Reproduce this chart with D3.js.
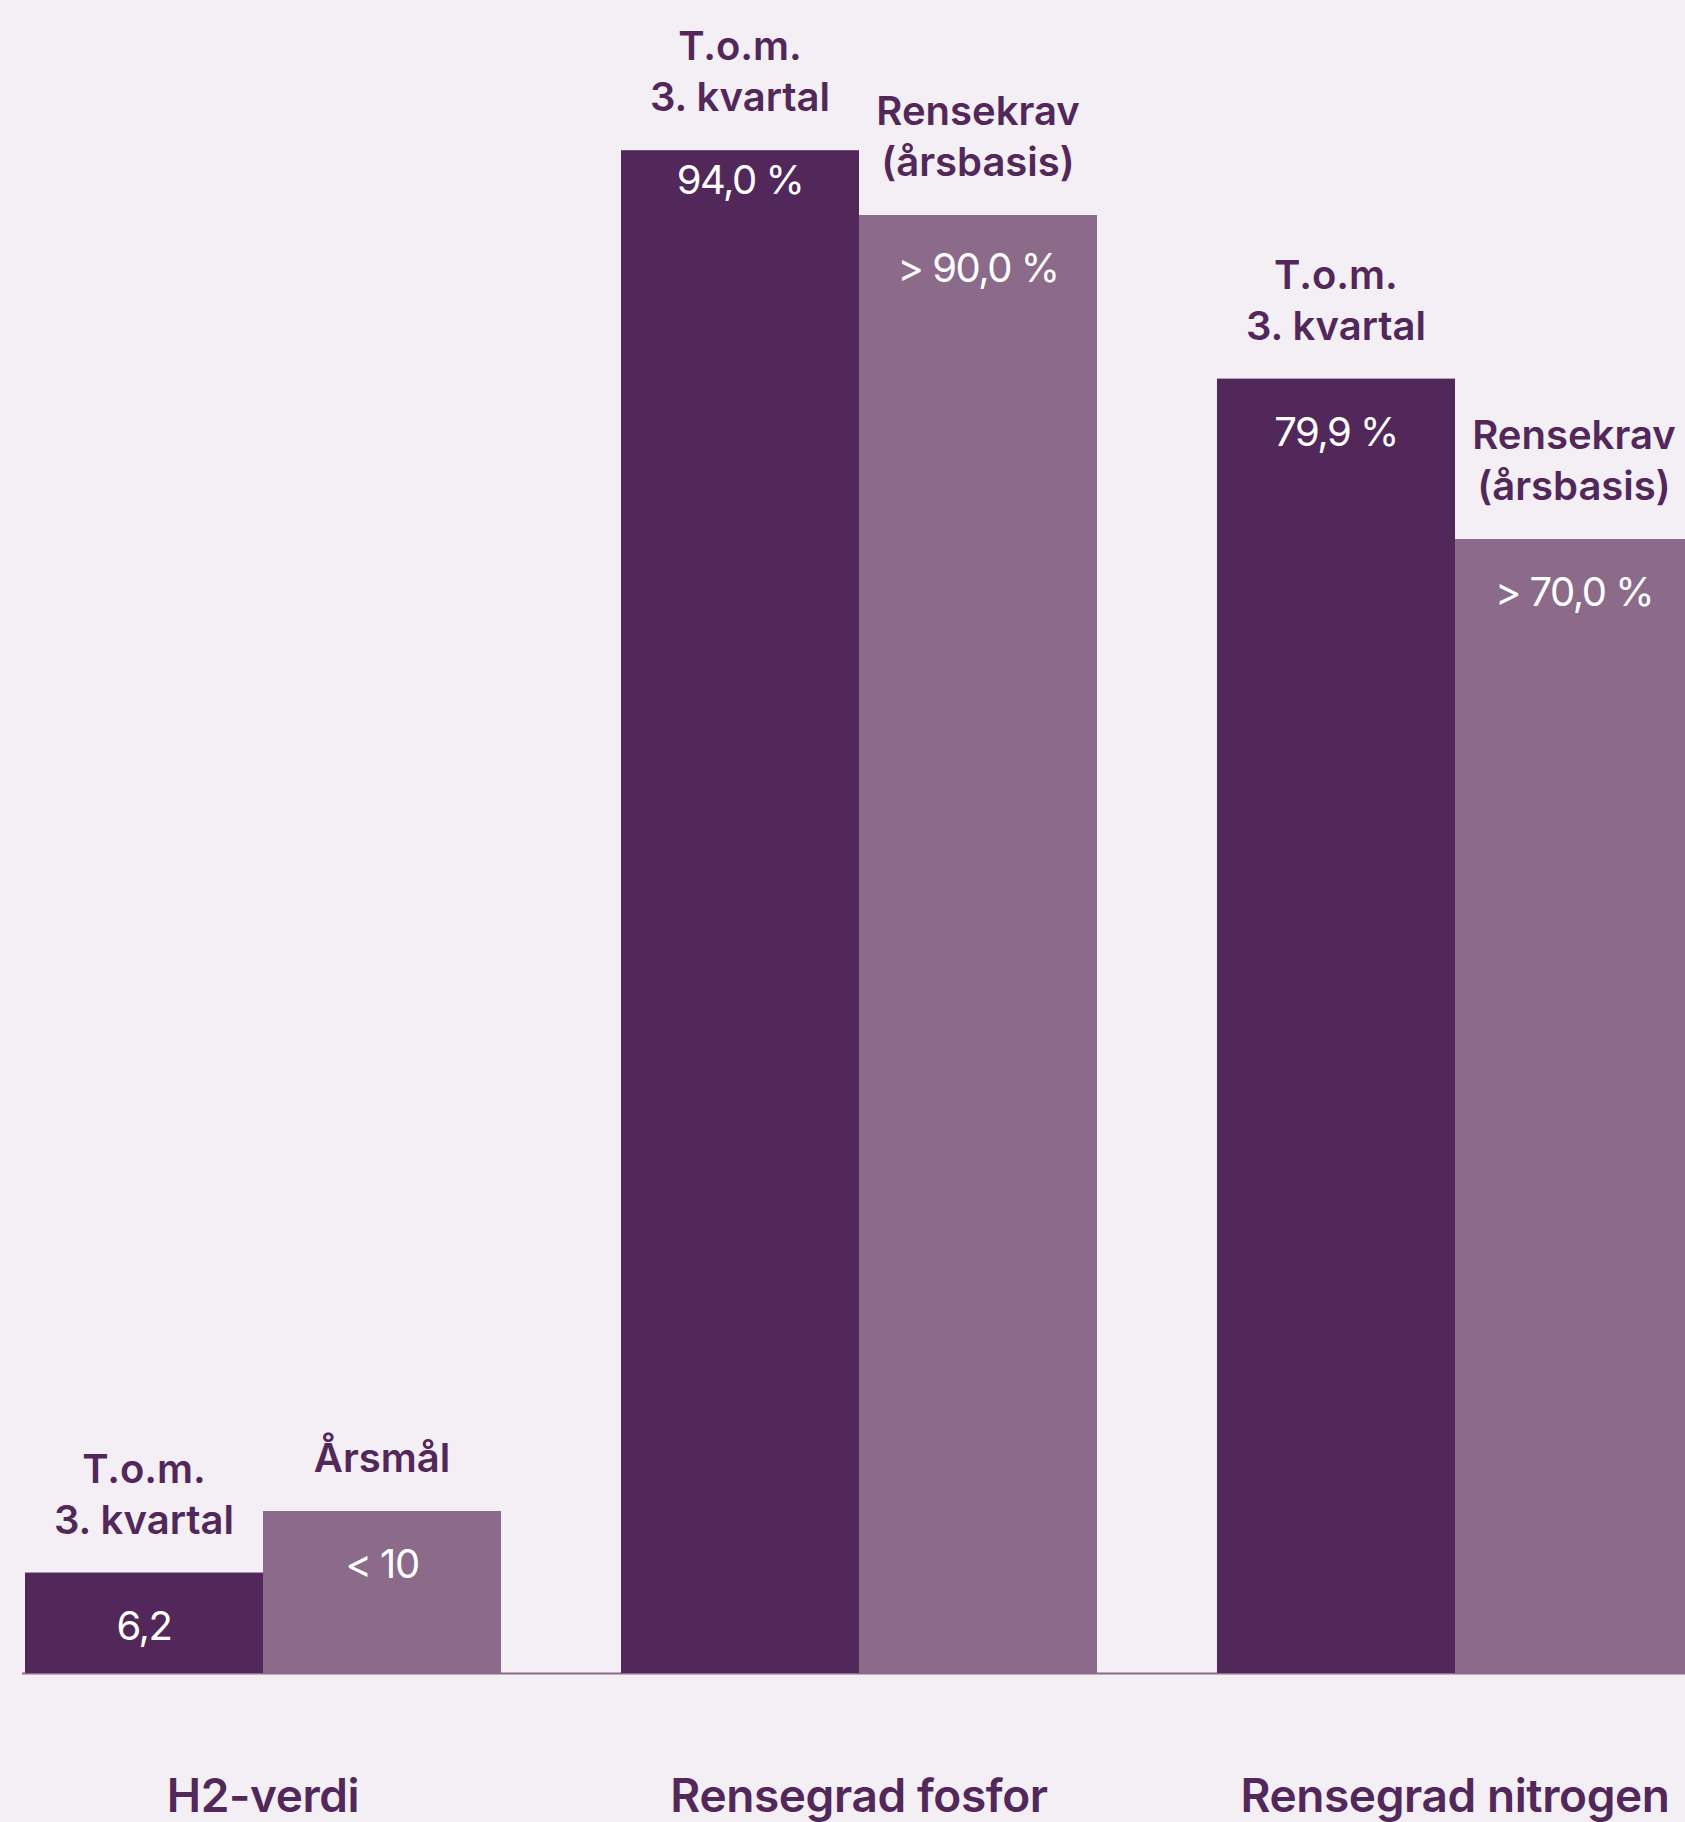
<!DOCTYPE html>
<html lang="no">
<head>
<meta charset="utf-8">
<title>Rensegrad</title>
<script src="https://cdnjs.cloudflare.com/ajax/libs/d3/7.8.5/d3.min.js"></script>
<style>
  body { margin: 0; background: #f4eff5; }
  svg { display: block; }
  text { font-family: Inter, "Noto Sans", sans-serif; }
</style>
</head>
<body>
<div id="chart"></div>
<script>
// data
var categories = ["H2-verdi", "Rensegrad fosfor", "Rensegrad nitrogen"];
var actual = [6.2, 94.0, 79.9];
var target = [10, 90.0, 70.0];
var actualLabels = ["6,2", "94,0 %", "79,9 %"];
var targetLabels = ["< 10", "> 90,0 %", "> 70,0 %"];
var actualNames = [["T.o.m.", "3. kvartal"], ["T.o.m.", "3. kvartal"], ["T.o.m.", "3. kvartal"]];
var targetNames = [["Årsmål"], ["Rensekrav", "(årsbasis)"], ["Rensekrav", "(årsbasis)"]];
var series = ["actual", "target"];

var width = 1685, height = 1822;
var dark = "#52285a", light = "#8c6a8a";

var svg = d3.select("#chart").append("svg")
    .attr("width", width)
    .attr("height", height);

var x0 = d3.scaleBand()
    .domain(categories)
    .range([25, 1693])
    .paddingInner(0.2013);

var x1 = d3.scaleBand()
    .domain(series)
    .range([0, x0.bandwidth()]);

var y = d3.scaleLinear()
    .domain([0, 100])
    .range([1673, 53]);

var color = d3.scaleOrdinal().domain(series).range([dark, light]);

var rows = [];
categories.forEach(function(c, i) {
    rows.push({cat: c, key: "actual", value: actual[i], label: actualLabels[i], names: actualNames[i]});
    rows.push({cat: c, key: "target", value: target[i], label: targetLabels[i], names: targetNames[i]});
});

// baseline
svg.append("line")
    .attr("x1", 22).attr("x2", width)
    .attr("y1", y(0) + 0.5).attr("y2", y(0) + 0.5)
    .attr("stroke", light)
    .attr("stroke-width", 2);

var g = svg.selectAll("g.bar").data(rows).enter().append("g")
    .attr("class", "bar")
    .attr("transform", function(d) { return "translate(" + (x0(d.cat) + x1(d.key)) + ",0)"; });

g.append("rect")
    .attr("x", 0)
    .attr("y", function(d) { return y(d.value); })
    .attr("width", x1.bandwidth())
    .attr("height", function(d) { return y(0) - y(d.value); })
    .attr("fill", function(d) { return color(d.key); });

// value inside bar
g.append("text")
    .attr("x", x1.bandwidth() / 2)
    .attr("y", function(d) { return y(d.value) + (d.value > 92 ? 44 : 67); })
    .attr("text-anchor", "middle")
    .attr("fill", "#fff")
    .attr("font-size", 40)
    .attr("letter-spacing", -1.5)
    .text(function(d) { return d.label; });

// series name above bar
g.each(function(d) {
    var n = d.names.length;
    var t = d3.select(this).append("text")
        .attr("text-anchor", "middle")
        .attr("fill", dark)
        .attr("font-size", 40)
        .attr("font-weight", 600);
    d.names.forEach(function(s, j) {
        t.append("tspan")
            .attr("x", x1.bandwidth() / 2)
            .attr("y", y(d.value) - 39 - (n - 1 - j) * 51)
            .text(s);
    });
});

// category labels
svg.selectAll("text.cat").data(categories).enter().append("text")
    .attr("class", "cat")
    .attr("x", function(d) { return x0(d) + x0.bandwidth() / 2; })
    .attr("y", 1812)
    .attr("text-anchor", "middle")
    .attr("fill", dark)
    .attr("font-size", 46)
    .attr("font-weight", 600)
    .attr("letter-spacing", -0.4)
    .text(function(d) { return d; });
</script>
</body>
</html>
